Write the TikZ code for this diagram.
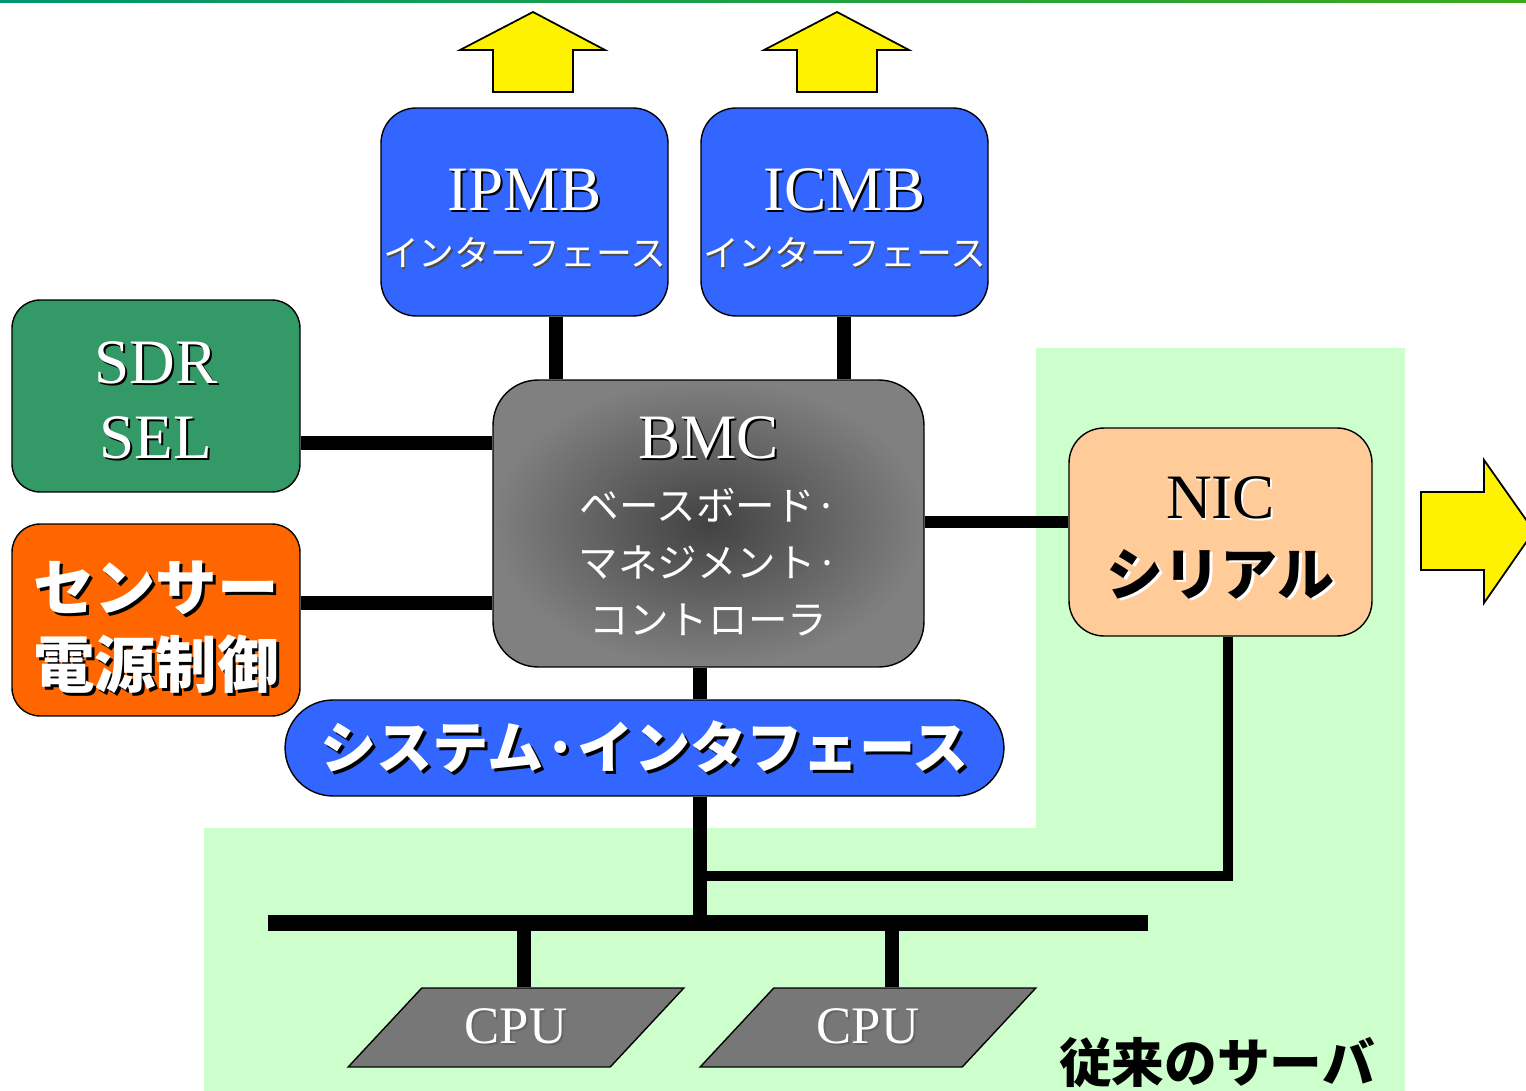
\documentclass[tikz,border=0pt]{standalone}
\usepackage{fontspec}
\setmainfont{Liberation Serif}
\newfontfamily\jp{Noto Sans CJK JP}
\usepackage{xcolor}
\usepackage{tikz}
\usetikzlibrary{shapes.geometric, arrows}

\definecolor{ifblue}{RGB}{51,102,255}
\definecolor{sdrgreen}{RGB}{51,153,102}
\definecolor{sensorange}{RGB}{255,102,0}
\definecolor{nicpeach}{RGB}{255,204,153}
\definecolor{srvgreen}{RGB}{204,255,204}
\definecolor{cpugray}{RGB}{119,119,119}
\definecolor{barteal}{RGB}{0,150,110}
\definecolor{barlime}{RGB}{60,170,30}

% text with a dropped shadow: [offset]{text colour}{shadow colour}{text}
\newcommand{\txtshadow}[4][1.1pt]{\leavevmode\rlap{\kern#1\raisebox{-#1}{\textcolor{#3}{#4}}}\textcolor{#2}{#4}}
% taller first line, pushes the text of a box a bit down
\newcommand{\topstrut}[1]{\rule{0pt}{#1}}

\tikzstyle{box} = [draw=black, line width=0.8pt, rounded corners=0.7cm, align=center, inner sep=0pt]
\tikzstyle{wire} = [line width=8pt]
\tikzstyle{bigarrow} = [draw=black, line width=1pt, fill=yellow]
\tikzstyle{cpu} = [trapezium, trapezium left angle=43, trapezium right angle=137, trapezium stretches=true, draw=black, line width=0.8pt, fill=cpugray, minimum width=6.72cm, minimum height=1.58cm, inner sep=0pt]

\begin{document}
\begin{tikzpicture}[x=0.02cm,y=-0.02cm]
	\useasboundingbox (0,0) rectangle (1526,1091);
	\clip (0,0) rectangle (1526,1091);
	
	% Background:
	% green bar on top and the light green area of the old server
	\shade[left color=barteal, right color=barlime] (0,0) rectangle (1526,3);
	\fill[srvgreen] (204,828) -- (1036,828) -- (1036,348) -- (1405,348) -- (1405,1091) -- (204,1091) -- cycle;
	
	% Yellow arrows:
	\draw[bigarrow] (493,92) -- (493,50) -- (460,50) -- (533,12) -- (605,50) -- (573,50) -- (573,92) -- cycle;
	\draw[bigarrow] (797,92) -- (797,50) -- (764,50) -- (837,12) -- (909,50) -- (877,50) -- (877,92) -- cycle;
	\draw[bigarrow] (1421,492) -- (1484,492) -- (1484,460) -- (1534,531) -- (1484,603) -- (1484,570) -- (1421,570) -- cycle;
	
	% Boxes:
	% (the line distance of a box is set by its font option)
	\node[box, fill=ifblue, minimum width=5.74cm, minimum height=4.16cm, font=\fontsize{20.4}{32.3}\selectfont] (ipmb) at (524.5,212)
		{\fontsize{36}{40}\selectfont\topstrut{32pt}\txtshadow{white}{black}{IPMB}\\
		 \jp\fontsize{20.4}{24}\selectfont\txtshadow[0.8pt]{white}{black!70}{インターフェース}};
	\node[box, fill=ifblue, minimum width=5.74cm, minimum height=4.16cm, font=\fontsize{20.4}{32.3}\selectfont] (icmb) at (844.5,212)
		{\fontsize{36}{40}\selectfont\topstrut{32pt}\txtshadow{white}{black}{ICMB}\\
		 \jp\fontsize{20.4}{24}\selectfont\txtshadow[0.8pt]{white}{black!70}{インターフェース}};
	\node[box, fill=sdrgreen, rounded corners=0.56cm, minimum width=5.76cm, minimum height=3.84cm, font=\fontsize{36}{43}\selectfont] (sdr) at (156,396)
		{\topstrut{30pt}\txtshadow{white}{black}{SDR}\\
		 \txtshadow{white}{black}{SEL}};
	\node[box, fill=sensorange, rounded corners=0.56cm, minimum width=5.76cm, minimum height=3.84cm, font=\jp\bfseries\fontsize{35}{43.6}\selectfont] (sensor) at (156,620)
		{\topstrut{38pt}\txtshadow[1.7pt]{white}{black}{センサー}\\
		 \txtshadow[1.7pt]{white}{black}{電源制御}};
	\node[box, shading=radial, inner color=black!74, outer color=black!50, rounded corners=0.9cm, minimum width=8.62cm, minimum height=5.74cm, font=\jp\fontsize{22.5}{32.3}\selectfont] (bmc) at (708.5,523.5)
		{\rmfamily\fontsize{36}{40}\selectfont\topstrut{27pt}\txtshadow{white}{black}{BMC}\\[3pt]
		 \color{white}ベースボード·\\
		 \color{white}マネジメント·\\
		 \color{white}コントローラ};
	\node[box, fill=nicpeach, minimum width=6.06cm, minimum height=4.16cm, font=\fontsize{32.5}{43.6}\selectfont] (nic) at (1220.5,532)
		{\fontsize{36}{40}\selectfont\topstrut{32pt}\txtshadow{black}{white}{NIC}\\
		 \jp\bfseries\txtshadow[1.5pt]{black}{white}{シリアル}};
	\node[box, fill=ifblue, rounded corners=0.96cm, minimum width=14.38cm, minimum height=1.92cm] (sysif) at (644.5,748)
		{\jp\bfseries\fontsize{32}{40}\selectfont\txtshadow[1.7pt]{white}{black}{システム·インタフェース}};
	\node[cpu] (cpua) at (516,1027.5) {\fontsize{30}{34}\selectfont\txtshadow{white}{black!60}{CPU}};
	\node[cpu] (cpub) at (868,1027.5) {\fontsize{30}{34}\selectfont\txtshadow{white}{black!60}{CPU}};
	\node[font=\jp\bfseries\fontsize{30}{34}\selectfont, inner sep=0pt] (server) at (1217,1063) {従来のサーバ};
	
	% Columns and rows the wires run along:
	\coordinate (ipmbcol) at (556,0);
	\coordinate (icmbcol) at (844,0);
	\coordinate (syscol) at (700,0);
	\coordinate (niccol) at (1228,0);
	\coordinate (cpuacol) at (524,0);
	\coordinate (cpubcol) at (892,0);
	\coordinate (sdrrow) at (0,443);
	\coordinate (sensrow) at (0,603);
	\coordinate (nicrow) at (0,522);
	\coordinate (taprow) at (0,876);
	\coordinate (busl) at (268,923);
	\coordinate (busr) at (1148,923);
	
	% Wires:
	\draw[wire] (ipmb.south -| ipmbcol) -- (bmc.north -| ipmbcol);
	\draw[wire] (icmb.south -| icmbcol) -- (bmc.north -| icmbcol);
	\draw[wire] (sdr.east |- sdrrow) -- (bmc.west |- sdrrow);
	\draw[wire] (sensor.east |- sensrow) -- (bmc.west |- sensrow);
	\draw[line width=6.8pt] (bmc.east |- nicrow) -- (nic.west |- nicrow);
	\draw[wire] (bmc.south -| syscol) -- (sysif.north -| syscol);
	\draw[wire] (sysif.south -| syscol) -- (syscol |- busl);
	\draw[line width=6pt] (nic.south -| niccol) -- (niccol |- taprow) -- (syscol |- taprow);
	\draw[line width=8.8pt] (busl) -- (busr);
	\draw[wire] (cpuacol |- busl) -- (cpua.north -| cpuacol);
	\draw[wire] (cpubcol |- busl) -- (cpub.north -| cpubcol);
	
\end{tikzpicture}
\end{document}
